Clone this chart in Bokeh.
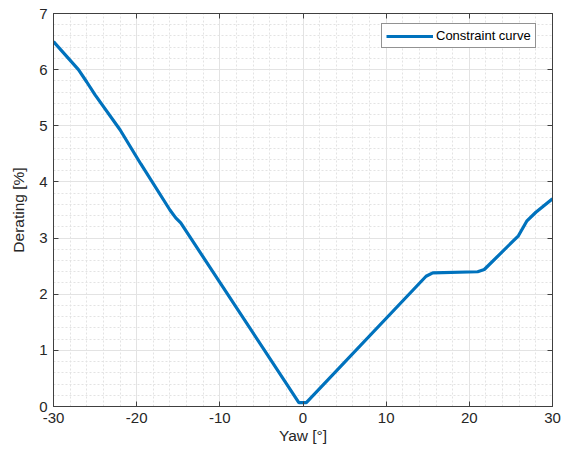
from bokeh.plotting import figure
from bokeh.models import (Range1d, LinearAxis, SingleIntervalTicker, Legend, LegendItem,
                          ColumnDataSource, Grid, CustomLabelingPolicy, PrintfTickFormatter)
from bokeh.embed import file_html
from bokeh.resources import INLINE

# Data
yaw = [-30, -27, -26, -25, -22, -19.5, -16, -15.3, -14.7, -0.5, 0.4,
       14.8, 15.6, 21.0, 21.8, 25.9, 26.9, 28.0, 30.0]
derating = [6.50, 6.00, 5.78, 5.55, 4.93, 4.32, 3.50, 3.36, 3.27, 0.07, 0.07,
            2.32, 2.38, 2.40, 2.44, 3.04, 3.30, 3.46, 3.70]
series_name = "Constraint curve"
x_label = "Yaw [°]"
y_label = "Derating [%]"

FONT = "Liberation Sans"
AX = "#404040"

p = figure(width=566, height=447, output_backend="svg", toolbar_location=None,
           x_range=Range1d(-30, 30), y_range=Range1d(0, 7),
           x_axis_location=None, y_axis_location=None,
           min_border_left=53, min_border_right=14, min_border_top=12, min_border_bottom=41)
p.background_fill_color = "white"
p.border_fill_color = "white"
p.outline_line_color = AX
p.outline_line_width = 1

xt = SingleIntervalTicker(interval=10, num_minor_ticks=5)
yt = SingleIntervalTicker(interval=1, num_minor_ticks=5)

no_labels = CustomLabelingPolicy(code="return new indices.constructor(indices.size, 0)")

def style(ax, labels=True):
    ax.axis_line_color = AX
    ax.major_tick_line_color = AX
    ax.major_tick_in = 5
    ax.major_tick_out = 0
    ax.minor_tick_in = 0
    ax.minor_tick_out = 0
    ax.major_label_text_font = FONT
    ax.major_label_text_color = "#262626"
    ax.major_label_text_font_size = "15px"
    ax.formatter = PrintfTickFormatter(format="%d")
    if not labels:
        ax.major_label_policy = no_labels
        ax.major_label_standoff = 0

xb = LinearAxis(ticker=xt, axis_label=x_label)
style(xb)
xb.major_label_standoff = 6
xb.axis_label_standoff = 1
xb.axis_label_text_font = FONT
xb.axis_label_text_font_size = "15.5px"
xb.axis_label_text_font_style = "normal"
xb.axis_label_text_color = "#262626"
p.add_layout(xb, "below")

yl = LinearAxis(ticker=yt, axis_label=y_label)
style(yl)
yl.major_label_standoff = 6
yl.axis_label_standoff = 9
yl.axis_label_text_font = FONT
yl.axis_label_text_font_size = "15.5px"
yl.axis_label_text_font_style = "normal"
yl.axis_label_text_color = "#262626"
p.add_layout(yl, "left")

xa = LinearAxis(ticker=xt)
style(xa, labels=False)
p.add_layout(xa, "above")
yr = LinearAxis(ticker=yt)
style(yr, labels=False)
p.add_layout(yr, "right")

for g in [Grid(dimension=0, ticker=xt), Grid(dimension=1, ticker=yt)]:
    g.grid_line_color = "#e3e3e3"
    g.grid_line_width = 1
    g.minor_grid_line_color = "#e3e3e3"
    g.minor_grid_line_dash = "2 2"
    g.minor_grid_line_width = 1
    p.add_layout(g)

src = ColumnDataSource(dict(x=yaw, y=derating))
r = p.line("x", "y", source=src, line_color="#0072BD", line_width=3.2)

leg = Legend(items=[LegendItem(label=series_name, renderers=[r])],
             location=(328, 358))
leg.label_text_font = FONT
leg.label_text_font_size = "13px"
leg.label_text_color = "#000000"
leg.glyph_width = 47
leg.glyph_height = 14
leg.label_standoff = 3
leg.padding = 4
leg.margin = 0
leg.spacing = 0
leg.border_line_color = "#262626"
leg.border_line_width = 1
leg.background_fill_color = "white"
leg.background_fill_alpha = 1
p.add_layout(leg, "center")

open("out.html", "w", encoding="utf-8").write(file_html(p, INLINE))
